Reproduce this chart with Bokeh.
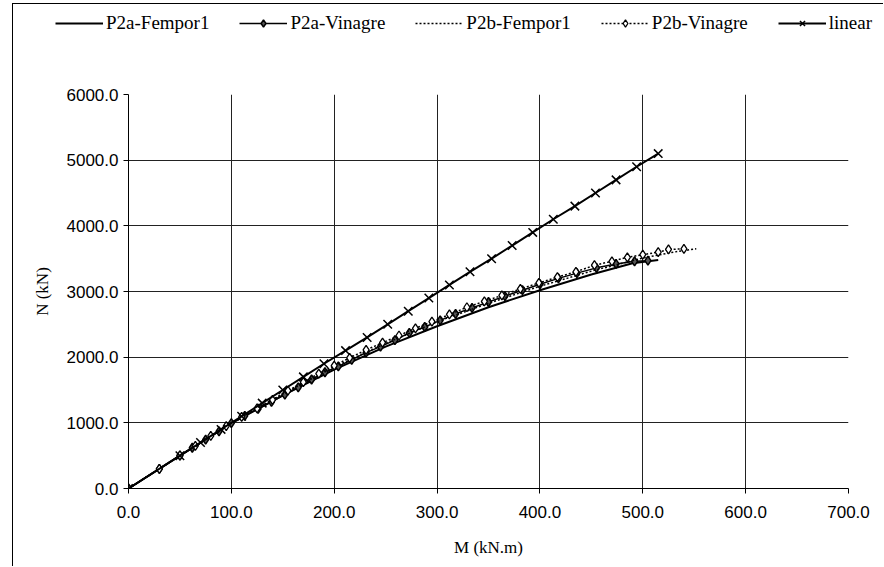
from bokeh.plotting import figure
from bokeh.models import Legend, LegendItem, NumeralTickFormatter, FixedTicker, Range1d
from bokeh.embed import file_html
from bokeh.resources import INLINE

# ---- data ----
x_ticks = [0, 100, 200, 300, 400, 500, 600, 700]
y_ticks = [0, 1000, 2000, 3000, 4000, 5000, 6000]

p2a_fem_M = [0, 50, 100, 150, 200, 250, 300, 350, 400, 450, 490, 515]
p2a_fem_N = [0, 500, 990, 1420, 1810, 2160, 2470, 2760, 3020, 3260, 3430, 3480]

p2a_vin_M = [0, 30, 50, 62, 75, 88, 100, 113, 126, 139, 152, 165, 178, 191, 204, 217, 231,
             245, 259, 273, 288, 303, 318, 334, 350, 366, 383, 400, 418, 436, 455, 474, 492, 505]
p2a_vin_N = [0, 300, 500, 620, 745, 870, 995, 1105, 1215, 1320, 1430, 1540, 1660, 1770, 1860,
             1960, 2070, 2160, 2260, 2370, 2460, 2560, 2660, 2750, 2840, 2930, 3020, 3110, 3200,
             3280, 3360, 3420, 3460, 3470]

p2b_fem_M = [0, 50, 100, 150, 200, 250, 300, 350, 400, 450, 500, 530, 552]
p2b_fem_N = [0, 500, 1000, 1440, 1850, 2210, 2540, 2820, 3080, 3310, 3510, 3600, 3650]

p2b_vin_M = [0, 30, 50, 65, 80, 95, 110, 125, 140, 155, 170, 185, 200, 215, 231, 247, 263, 279,
             295, 312, 329, 346, 363, 381, 399, 417, 435, 453, 470, 485, 500, 515, 525, 540]
p2b_vin_N = [0, 300, 505, 650, 800, 950, 1090, 1220, 1350, 1490, 1620, 1750, 1870, 1990, 2110,
             2220, 2330, 2440, 2540, 2650, 2760, 2850, 2940, 3040, 3130, 3220, 3300, 3400, 3460,
             3520, 3560, 3600, 3640, 3650]

lin_M = [0, 50, 70, 90, 110, 130, 150, 170, 190, 211, 232, 252, 272, 292, 312, 332, 353, 373,
         393, 413, 434, 454, 474, 494, 515]
lin_N = [0, 500, 700, 900, 1100, 1300, 1500, 1700, 1900, 2100, 2300, 2500, 2700, 2900, 3100,
         3300, 3500, 3700, 3900, 4100, 4300, 4500, 4700, 4900, 5100]

series_names = ["P2a-Fempor1", "P2a-Vinagre", "P2b-Fempor1", "P2b-Vinagre", "linear"]

W = 871
LH = 40
PH = 523

STY = {
    "fem_a": dict(line_color="black", line_width=2),
    "vin_a_line": dict(line_color="black", line_width=1.5),
    "vin_a_mark": dict(marker="diamond", size=9, line_color="black", fill_color="#555555", line_width=1.5),
    "fem_b": dict(line_color="black", line_width=1.5, line_dash="2 2"),
    "vin_b_line": dict(line_color="black", line_width=1.5, line_dash="2 2"),
    "vin_b_mark": dict(marker="diamond", size=9, line_color="black", fill_color="white", line_width=1.3),
    "lin_line": dict(line_color="black", line_width=2),
    "lin_mark": dict(marker="x", size=12, line_color="black", line_width=1.5),
}

# ---- legend strip (its own root, so the legend is not clipped by the plot frame) ----
lf = figure(width=W, height=LH, output_backend="svg", toolbar_location=None,
            x_range=Range1d(0, 1), y_range=Range1d(0, 1),
            x_axis_type=None, y_axis_type=None,
            min_border_left=0, min_border_right=0, min_border_top=0, min_border_bottom=0)
lf.grid.visible = False
lf.outline_line_color = None
lf.background_fill_color = "white"
lf.border_fill_color = "white"
lf.margin = (3, 0, 0, 12)
lf.styles = {"border-left": "1px solid #000", "border-top": "1px solid #000"}

hx, hy = [-5], [-5]   # kept outside the visible range; only their legend glyphs are seen
g1 = lf.line(hx, hy, **STY["fem_a"])
g2l = lf.line(hx, hy, **STY["vin_a_line"])
g2s = lf.scatter(hx, hy, **STY["vin_a_mark"])
g3 = lf.line(hx, hy, **STY["fem_b"])
g4l = lf.line(hx, hy, **STY["vin_b_line"])
g4s = lf.scatter(hx, hy, **STY["vin_b_mark"])
g5l = lf.line(hx, hy, **STY["lin_line"])
g5s = lf.scatter(hx, hy, **STY["lin_mark"])

legend = Legend(items=[
    LegendItem(label=series_names[0], renderers=[g1]),
    LegendItem(label=series_names[1], renderers=[g2l, g2s]),
    LegendItem(label=series_names[2], renderers=[g3]),
    LegendItem(label=series_names[3], renderers=[g4l, g4s]),
    LegendItem(label=series_names[4], renderers=[g5l, g5s]),
], orientation="horizontal", location=(42, 10))
legend.label_text_font = "Liberation Serif"
legend.label_text_font_size = "19px"
legend.label_text_color = "black"
legend.glyph_width = 48
legend.glyph_height = 18
legend.label_standoff = 3
legend.spacing = 30
legend.padding = 0
legend.margin = 0
legend.border_line_color = None
legend.background_fill_alpha = 0
lf.add_layout(legend, "center")

# ---- main plot ----
p = figure(width=W, height=PH, output_backend="svg", toolbar_location=None,
           x_range=Range1d(0, 700), y_range=Range1d(0, 6000),
           min_border_left=115, min_border_right=36, min_border_top=51, min_border_bottom=78)
p.background_fill_color = "white"
p.border_fill_color = "white"
p.outline_line_color = None
p.margin = (0, 0, 0, 12)
p.styles = {"border-left": "1px solid #000"}

for ax in (p.xaxis[0], p.yaxis[0]):
    ax.major_label_text_font = "Liberation Sans"
    ax.major_label_text_font_size = "17px"
    ax.major_label_text_color = "black"
    ax.axis_line_color = "black"
    ax.axis_line_width = 1
    ax.major_tick_line_color = "black"
    ax.major_tick_out = 5
    ax.major_tick_in = 0
    ax.minor_tick_line_color = None
    ax.formatter = NumeralTickFormatter(format="0.0")
    ax.axis_label_text_font = "Liberation Serif"
    ax.axis_label_text_font_style = "normal"
    ax.axis_label_text_font_size = "17px"
    ax.axis_label_text_color = "black"

p.xaxis[0].ticker = FixedTicker(ticks=x_ticks)
p.yaxis[0].ticker = FixedTicker(ticks=y_ticks)
p.xaxis[0].major_label_standoff = 12
p.yaxis[0].major_label_standoff = 5
p.xaxis[0].axis_label = "M (kN.m)"
p.yaxis[0].axis_label = "N (kN)"
p.xaxis[0].axis_label_standoff = 17
p.yaxis[0].axis_label_standoff = 12

p.xgrid.ticker = FixedTicker(ticks=x_ticks)
p.ygrid.ticker = FixedTicker(ticks=y_ticks)
p.xgrid.grid_line_color = "#222222"
p.ygrid.grid_line_color = "#222222"
p.xgrid.grid_line_width = 1
p.ygrid.grid_line_width = 1

p.line(p2a_fem_M, p2a_fem_N, **STY["fem_a"])
p.line(p2a_vin_M, p2a_vin_N, **STY["vin_a_line"])
p.scatter(p2a_vin_M, p2a_vin_N, **STY["vin_a_mark"])
p.line(p2b_fem_M, p2b_fem_N, **STY["fem_b"])
p.line(p2b_vin_M, p2b_vin_N, **STY["vin_b_line"])
p.scatter(p2b_vin_M, p2b_vin_N, **STY["vin_b_mark"])
p.line(lin_M, lin_N, **STY["lin_line"])
p.scatter(lin_M, lin_N, **STY["lin_mark"])

open("out.html", "w").write(file_html([lf, p], INLINE))
